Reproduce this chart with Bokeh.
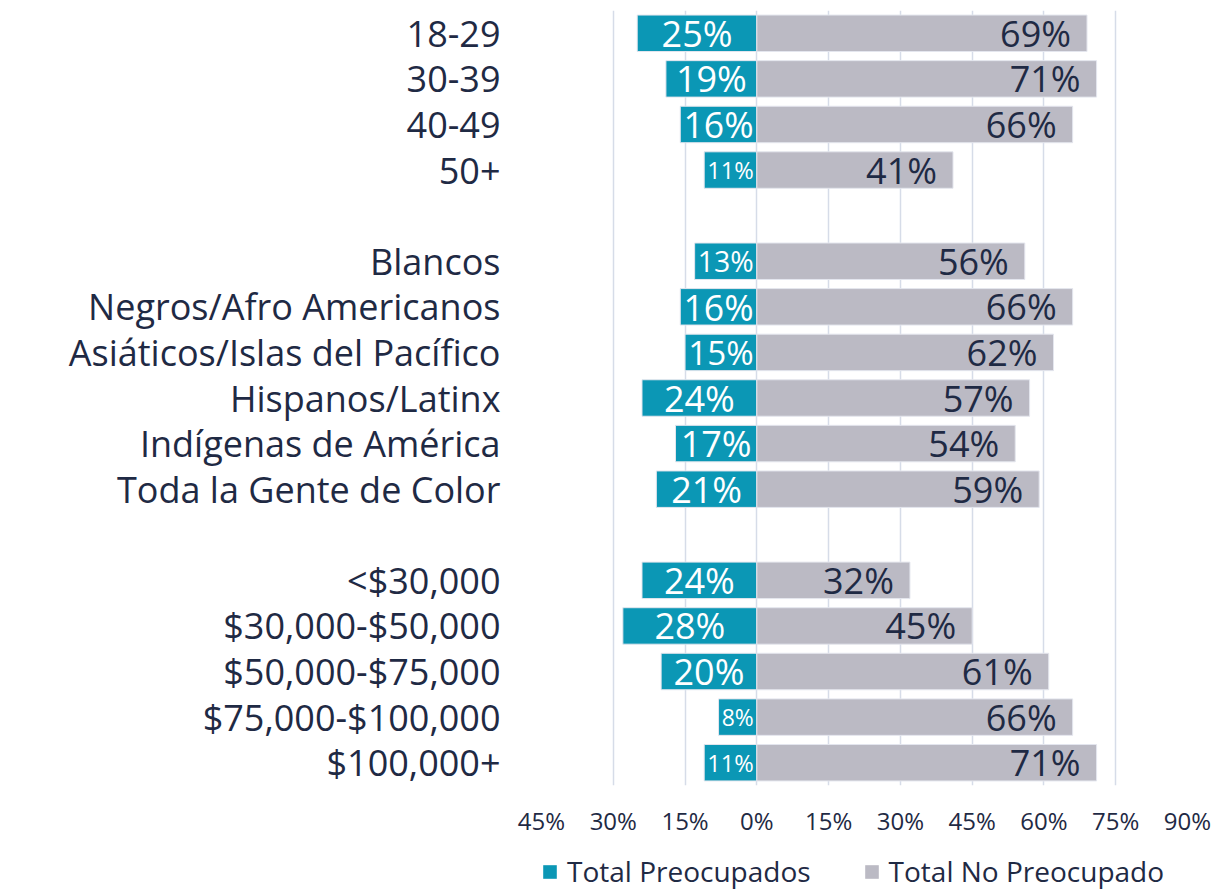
from bokeh.plotting import figure
from bokeh.layouts import column
from bokeh.models import (FactorRange, Range1d, FixedTicker, Legend, LegendItem,
                          ColumnDataSource)
from bokeh.embed import file_html
from bokeh.resources import INLINE
from bokeh.core.properties import value

# ---------------- data ----------------
age_groups = ["18-29", "30-39", "40-49", "50+"]
age_worried = [25, 19, 16, 11]
age_not_worried = [69, 71, 66, 41]

race_groups = ["Blancos", "Negros/Afro Americanos", "Asiáticos/Islas del Pacífico",
               "Hispanos/Latinx", "Indígenas de América", "Toda la Gente de Color"]
race_worried = [13, 16, 15, 24, 17, 21]
race_not_worried = [56, 66, 62, 57, 54, 59]

income_groups = ["<$30,000", "$30,000-$50,000", "$50,000-$75,000",
                 "$75,000-$100,000", "$100,000+"]
income_worried = [24, 28, 20, 8, 11]
income_not_worried = [32, 45, 61, 66, 71]

series_names = ["Total Preocupados", "Total No Preocupado"]
tick_values = [-45, -30, -15, 0, 15, 30, 45, 60, 75, 90]
tick_labels = ["45%", "30%", "15%", "0%", "15%", "30%", "45%", "60%", "75%", "90%"]

# ---------------- styling ----------------
TEAL = "#0b97b5"
GREY = "#bbbac4"
NAVY = "#1f2a44"
GRID = "#d6dce8"
EDGE = "#e4e6ee"
FONT = "Open Sans"

W = 1216
TOTAL_H = 891
LEFT, TOP = 541, 10
FRAME_W, FRAME_H = 646, 775
RIGHT = W - LEFT - FRAME_W
BOTTOM = 60
H1 = TOP + FRAME_H + BOTTOM
H2 = TOTAL_H - H1
ppu = FRAME_W / (tick_values[-1] - tick_values[0])

cats = age_groups + race_groups + income_groups
worried = age_worried + race_worried + income_worried
not_worried = age_not_worried + race_not_worried + income_not_worried

factors_top_down = age_groups + [" "] + race_groups + ["  "] + income_groups
factors = list(reversed(factors_top_down))


def fit_size(v, maxpx=36):
    s = f"{v}%"
    em = 0.57 * (len(s) - 1) + 0.84
    avail = v * ppu - 6
    return f"{min(maxpx, avail / em):.1f}px"


src = ColumnDataSource(dict(
    cat=cats,
    neg=[-v for v in worried],
    pos=not_worried,
    mid=[-v / 2 for v in worried],
    wl=[f"{v}%" for v in worried],
    nl=[f"{v}%" for v in not_worried],
    wfs=[fit_size(v) for v in worried],
))

p = figure(frame_width=FRAME_W, frame_height=FRAME_H,
           y_range=FactorRange(factors=factors, range_padding=0),
           x_range=Range1d(tick_values[0], tick_values[-1]),
           output_backend="svg", toolbar_location=None,
           min_border_left=LEFT, min_border_right=RIGHT,
           min_border_top=TOP, min_border_bottom=BOTTOM)
p.outline_line_color = None
p.background_fill_color = "white"

p.hbar(y="cat", left="neg", right=0, height=0.8, fill_color=TEAL,
       line_color=EDGE, line_width=1, source=src)
p.hbar(y="cat", left=0, right="pos", height=0.8, fill_color=GREY,
       line_color=EDGE, line_width=1, source=src)

p.text(x="mid", y="cat", text="wl", text_font=value(FONT), text_font_size="wfs",
       text_color="white", text_align="center", text_baseline="middle", source=src)
p.text(x="pos", y="cat", text="nl", text_font=value(FONT), text_font_size="36px",
       text_color=NAVY, text_align="right", text_baseline="middle", x_offset=-16,
       source=src)

# grid
p.ygrid.grid_line_color = None
p.xgrid.ticker = FixedTicker(ticks=tick_values)
p.xgrid.grid_line_color = GRID
p.xgrid.grid_line_width = 1.5

# x axis
xa = p.xaxis[0]
xa.ticker = FixedTicker(ticks=tick_values)
xa.major_label_overrides = {t: l for t, l in zip(tick_values, tick_labels)}
xa.axis_line_color = None
xa.major_tick_line_color = None
xa.minor_tick_line_color = None
xa.major_label_text_font = FONT
xa.major_label_text_font_size = "24px"
xa.major_label_text_color = NAVY
xa.major_label_standoff = 12

# y axis
ya = p.yaxis[0]
ya.axis_line_color = None
ya.major_tick_line_color = None
ya.minor_tick_line_color = None
ya.major_label_text_font = FONT
ya.major_label_text_font_size = "36px"
ya.major_label_text_color = NAVY
ya.major_label_standoff = 35

# legend in its own strip below (frame aligned with the chart frame)
lg = figure(frame_width=FRAME_W, frame_height=H2,
            x_range=Range1d(tick_values[0], tick_values[-1]),
            y_range=FactorRange(factors=factors),
            output_backend="svg", toolbar_location=None,
            min_border_left=LEFT, min_border_right=RIGHT,
            min_border_top=0, min_border_bottom=0)
lg.axis.visible = False
lg.grid.visible = False
lg.outline_line_color = None
lr1 = lg.hbar(y="cat", left="neg", right=0, height=0.8, fill_color=TEAL,
              line_color=None, source=src, visible=False)
lr2 = lg.hbar(y="cat", left=0, right="pos", height=0.8, fill_color=GREY,
              line_color=None, source=src, visible=False)
legend = Legend(items=[LegendItem(label=series_names[0], renderers=[lr1]),
                       LegendItem(label=series_names[1], renderers=[lr2])],
                orientation="horizontal", location=(0, 1),
                label_text_font=FONT, label_text_font_size="28px",
                label_text_color=NAVY, glyph_width=17, glyph_height=17,
                label_standoff=9, spacing=52, border_line_color=None,
                background_fill_alpha=0, margin=0, padding=0,
                inactive_fill_alpha=0)
lg.add_layout(legend)

layout = column(p, lg, spacing=0)
open("out.html", "w").write(file_html(layout, INLINE))
